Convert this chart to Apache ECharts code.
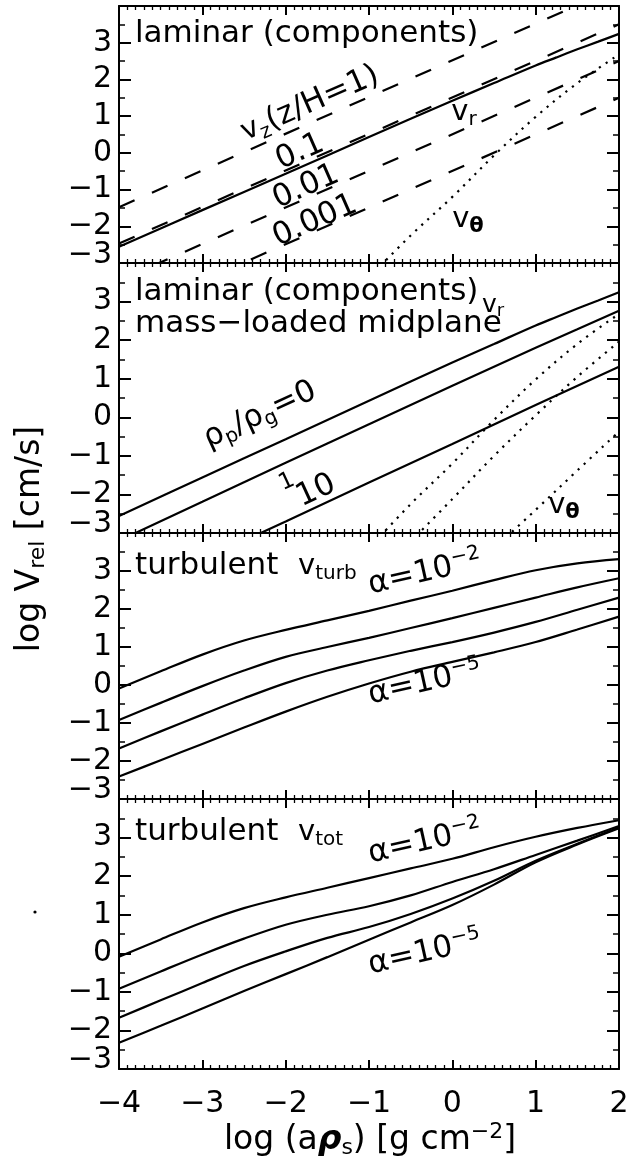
<!DOCTYPE html>
<html><head><meta charset="utf-8">
<script src="https://cdn.jsdelivr.net/npm/echarts@6/dist/echarts.min.js"></script>
<style>html,body{margin:0;padding:0;background:#fff}#c{width:639px;height:1160px}</style>
</head><body><div id="c"></div>
<script>
// ---------- data (log values) ----------
const xTickLabels = ['\u22124','\u22123','\u22122','\u22121','0','1','2'];
const yTickLabels = ['\u22123','\u22122','\u22121','0','1','2','3'];
const xGrid = [-4,-3.5,-3,-2.5,-2,-1.5,-1,-0.5,0,0.5,1,1.5,2];

// panel 1: laminar components
const vzH1    = [[-4,-1.48],[2,4.52]];
const vzH01   = [[-4,-2.47],[2,3.50]];
const vzH001  = [[-4,-3.48],[2,2.50]];
const vzH0001 = [[-4,-4.48],[2,1.50]];
const vrEps0  = [[-4,-2.56],[-3,-1.56],[-2,-0.57],[-1,0.43],[0,1.42],[0.5,1.90],[1,2.38],[1.25,2.60],[1.5,2.82],[1.75,3.03],[2,3.24]];
const vthEps0 = [[-1,-3.40],[-0.5,-2.25],[0,-1.20],[0.5,-0.07],[1,0.98],[1.5,1.90],[2,2.68]];

// panel 2: mass-loaded midplane
const vrEps1   = [[-4,-3.20],[-3,-2.19],[-2,-1.18],[-1,-0.18],[0,0.82],[1,1.80],[1.5,2.28],[2,2.76]];
const vrEps10  = [[-4,-4.70],[-2,-2.70],[-1,-1.69],[0,-0.69],[1,0.32],[2,1.31]];
const vthEps1  = [[-0.5,-3.22],[0,-2.12],[0.5,-1.00],[1,0.05],[1.5,1.05],[2,1.96]];
const vthEps10 = [[0.5,-3.40],[1,-2.40],[1.5,-1.38],[2,-0.37]];

// panel 3: turbulent v_turb (alpha = 1e-2 .. 1e-5), on xGrid
const turbA2 = [-0.09,0.36,0.80,1.17,1.45,1.70,1.95,2.22,2.48,2.76,3.02,3.20,3.31];
const turbA3 = [-0.92,-0.47,-0.03,0.38,0.74,1.00,1.24,1.50,1.76,2.03,2.30,2.57,2.81];
const turbA4 = [-1.67,-1.22,-0.78,-0.35,0.05,0.38,0.65,0.90,1.13,1.38,1.66,1.98,2.30];
const turbA5 = [-2.41,-1.98,-1.55,-1.12,-0.70,-0.31,0.04,0.35,0.61,0.86,1.13,1.46,1.80];

// panel 4: turbulent v_tot, on xGrid
const totA2 = [-0.09,0.36,0.80,1.17,1.45,1.70,1.95,2.20,2.45,2.75,3.02,3.25,3.45];
const totA3 = [-0.92,-0.47,-0.03,0.38,0.74,1.00,1.22,1.50,1.85,2.18,2.55,2.92,3.30];
const totA4 = [-1.67,-1.22,-0.77,-0.33,0.05,0.40,0.68,1.02,1.42,1.88,2.40,2.84,3.26];
const totA5 = [-2.32,-1.88,-1.43,-0.98,-0.54,-0.10,0.35,0.80,1.25,1.78,2.36,2.82,3.24];

// ---------- build chart ----------
const FONT = 'DejaVu Sans';
const BLACK = '#000';
const panels = [{top:6,height:257},{top:263,height:270},{top:533,height:266},{top:799,height:270}];
const grid = panels.map(p => ({left:119, width:500, top:p.top, height:p.height}));

const xAxis = [], yAxis = [];
panels.forEach((p, i) => {
  ['bottom','top'].forEach(pos => {
    xAxis.push({
      type:'value', gridIndex:i, position:pos, min:-4, max:2, interval:1,
      axisLine:{show:true, onZero:false, lineStyle:{color:BLACK, width:2}},
      axisTick:{show:true, inside:true, length:9, lineStyle:{color:BLACK, width:2}},
      minorTick:{show:true, splitNumber:10, length:4, lineStyle:{color:BLACK, width:1.3}},
      splitLine:{show:false},
      axisLabel:{show: (i === 3 && pos === 'bottom'), margin:20, color:BLACK,
        fontFamily:FONT, fontSize:30, formatter: v => xTickLabels[Math.round(v) + 4]}
    });
  });
  ['left','right'].forEach(pos => {
    yAxis.push({
      type:'value', gridIndex:i, position:pos, min:-3, max:4, interval:1,
      axisLine:{show:true, onZero:false, lineStyle:{color:BLACK, width:2}},
      axisTick:{show:true, inside:true, length:12, lineStyle:{color:BLACK, width:2}},
      minorTick:{show:true, splitNumber:2, length:6, lineStyle:{color:BLACK, width:1.5}},
      splitLine:{show:false},
      // the lowest label (-3) is lifted above its tick in the original; drawn below
      axisLabel:{show: pos === 'left', margin:7, color:BLACK, fontFamily:FONT, fontSize:30,
        showMinLabel:false, showMaxLabel:false,
        formatter: v => ((v >= 3.5 || v <= -2.5) ? '' : yTickLabels[Math.round(v) + 3])}
    });
  });
});

function zipX(arr){ return xGrid.map((x, k) => [x, arr[k]]); }
function line(panel, data, type, smooth){
  return {
    type:'line', xAxisIndex: panel*2, yAxisIndex: panel*2, data: data,
    showSymbol:false, symbol:'none', smooth: smooth === undefined ? 0.35 : smooth,
    clip:true, silent:true, animation:false,
    lineStyle:{color:BLACK, width:2.2, type: type || 'solid'}
  };
}
const DASH = [17,19], DOT = [2.2,6];
const series = [
  line(0, vzH1, DASH, false), line(0, vzH01, DASH, false), line(0, vzH001, DASH, false), line(0, vzH0001, DASH, false),
  line(0, vrEps0), line(0, vthEps0, DOT),
  line(1, vrEps0), line(1, vrEps1), line(1, vrEps10),
  line(1, vthEps0, DOT), line(1, vthEps1, DOT), line(1, vthEps10, DOT),
  line(2, zipX(turbA2)), line(2, zipX(turbA3)), line(2, zipX(turbA4)), line(2, zipX(turbA5)),
  line(3, zipX(totA2)), line(3, zipX(totA3)), line(3, zipX(totA4)), line(3, zipX(totA5))
];

// ---------- text annotations ----------
const R = {
  n:  {fontFamily:FONT, fontSize:31, lineHeight:36, fill:BLACK, verticalAlign:'middle'},
  sm: {fontFamily:FONT, fontSize:23, lineHeight:36, fill:BLACK, verticalAlign:'middle'},
  v:  {fontFamily:FONT, fontSize:29, lineHeight:36, fill:BLACK, verticalAlign:'middle'},
  vs: {fontFamily:FONT, fontSize:25, lineHeight:30, fill:BLACK, verticalAlign:'middle'},
  s:  {fontFamily:FONT, fontSize:20, lineHeight:14, fill:BLACK, verticalAlign:'bottom'},
  ss: {fontFamily:FONT, fontSize:18, lineHeight:12, fill:BLACK, verticalAlign:'bottom'},
  sb: {fontFamily:FONT, fontSize:21, lineHeight:14, fill:BLACK, fontWeight:'bold', verticalAlign:'bottom'},
  p:  {fontFamily:FONT, fontSize:20, lineHeight:14, fill:BLACK, verticalAlign:'top'},
  t:  {fontFamily:FONT, fontSize:33, lineHeight:38, fill:BLACK, verticalAlign:'middle'},
  tb: {fontFamily:FONT, fontSize:33, lineHeight:38, fill:BLACK, fontWeight:'bold', fontStyle:'italic', verticalAlign:'middle'},
  ts: {fontFamily:FONT, fontSize:22, lineHeight:15, fill:BLACK, verticalAlign:'bottom'},
  tp: {fontFamily:FONT, fontSize:22, lineHeight:15, fill:BLACK, verticalAlign:'top'}
};
function T(x, y, text, align, rot){
  return {type:'text', x:x, y:y, rotation: rot || 0, silent:true, z:10,
    style:{text:text, rich:R, fontFamily:FONT, fontSize:31, fill:BLACK,
      align: align || 'center', verticalAlign:'middle'}};
}
function minLabel(y){
  return {type:'text', x:112, y:y, silent:true,
    style:{text:yTickLabels[0], fontFamily:FONT, fontSize:30, fill:BLACK, align:'right', verticalAlign:'middle'}};
}
const A1 = 0.4145, A2 = 0.433, AA = 0.22;
const graphic = [
  minLabel(255), minLabel(524), minLabel(790), minLabel(1060),
  // panel 1
  T(135, 34, '{n|laminar (components)}', 'left'),
  T(310, 104, '{v|v}{s|z}{n|(z/H=1)}', 'center', A1),
  T(300, 152, '{n|0.1}', 'center', A1),
  T(306, 187, '{n|0.01}', 'center', A1),
  T(315, 221, '{n|0.001}', 'center', A1),
  T(464, 112, '{v|v}{s|r}'),
  T(468, 219, '{v|v}{sb|\u03b8}'),
  // panel 2
  T(135, 292, '{n|laminar (components)}', 'left'),
  T(135, 324, '{n|mass\u2212loaded midplane}', 'left'),
  T(482, 305, '{vs|v}{ss|r}', 'left'),
  T(260, 415, '{n|\u03c1}{s|p}{n|/\u03c1}{s|g}{n|=0}', 'center', A2),
  T(287, 482, '{sm|1}', 'center', A2),
  T(316, 491, '{n|10}', 'center', A2),
  T(564, 505, '{v|v}{sb|\u03b8}'),
  // panel 3
  T(135, 566, '{n|turbulent  }{v|v}{s|turb}', 'left'),
  T(425, 573, '{n|\u03b1=10}{p|\u22122}', 'center', AA),
  T(425, 683, '{n|\u03b1=10}{p|\u22125}', 'center', AA),
  // panel 4
  T(135, 832, '{n|turbulent  }{v|v}{s|tot}', 'left'),
  T(425, 842, '{n|\u03b1=10}{p|\u22122}', 'center', AA),
  T(425, 953, '{n|\u03b1=10}{p|\u22125}', 'center', AA),
  // axis titles
  {type:'text', x:30, y:539, rotation:Math.PI/2, silent:true,
    style:{text:'{t|log V}{ts|rel}{t| [cm/s]}', rich:R, fontFamily:FONT, fontSize:33, fill:BLACK, align:'center', verticalAlign:'middle'}},
  {type:'text', x:370, y:1140, silent:true,
    style:{text:'{t|log (a}{tb|\u03c1}{ts|s}{t|) [g cm}{tp|\u22122}{t|]}', rich:R, fontFamily:FONT, fontSize:33, fill:BLACK, align:'center', verticalAlign:'middle'}},
  // stray dot in the original figure
  {type:'circle', shape:{cx:35, cy:912, r:1.6}, style:{fill:BLACK}, silent:true}
];

const chart = echarts.init(document.getElementById('c'), null, {renderer:'canvas'});
chart.setOption({
  animation:false, backgroundColor:'#fff',
  grid: grid, xAxis: xAxis, yAxis: yAxis, series: series, graphic: graphic
});
</script></body></html>
